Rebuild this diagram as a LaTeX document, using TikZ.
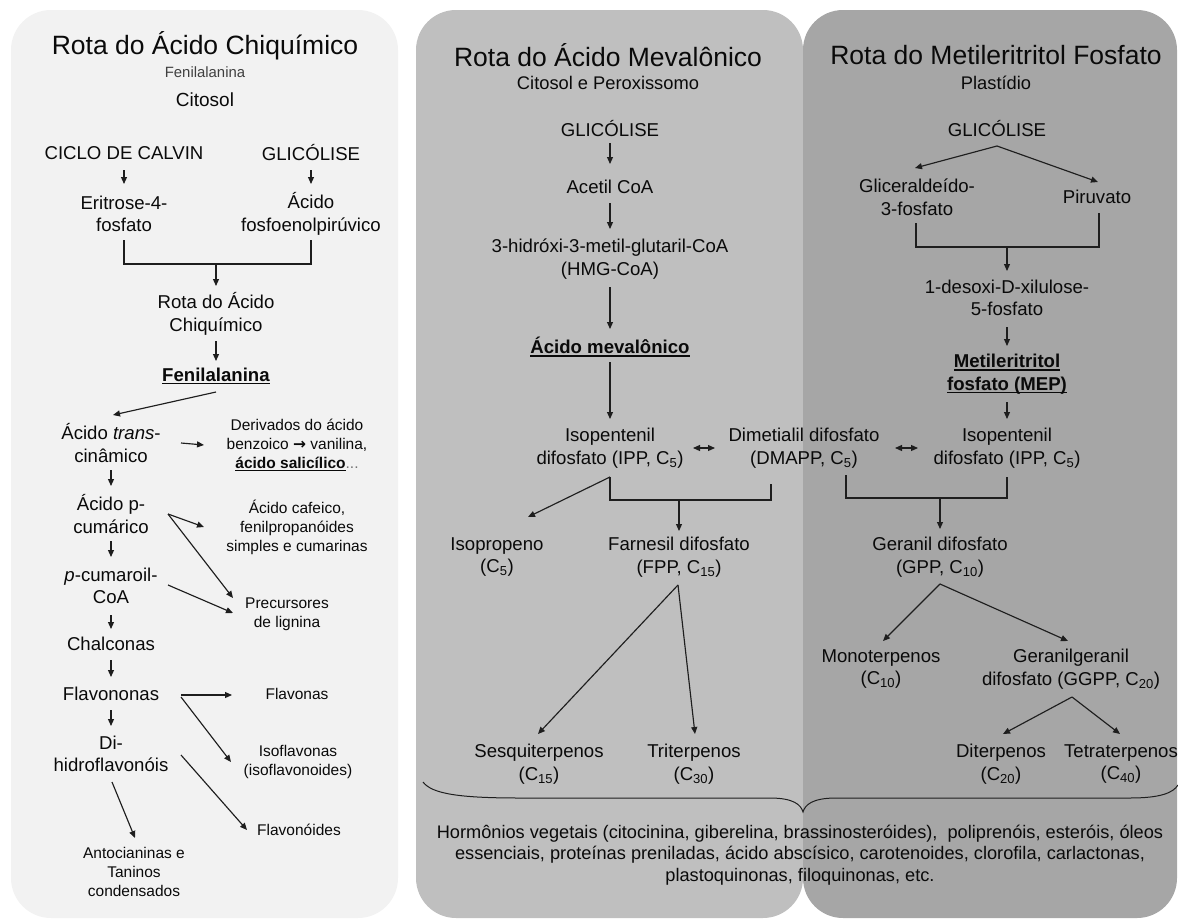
\documentclass[tikz,border=0pt]{standalone}
\usepackage{fontspec}
\setmainfont{Liberation Sans}
\newfontfamily\dejavu{DejaVu Sans}
\usetikzlibrary{arrows.meta,calc}
\definecolor{pA}{HTML}{F2F2F2}
\definecolor{pB}{HTML}{BFBFBF}
\definecolor{pC}{HTML}{A6A6A6}
\definecolor{ink}{HTML}{0A0A0A}
\definecolor{lnk}{HTML}{1E1E1E}
\newcommand{\myul}[1]{\setbox0\hbox{#1}\rlap{\rule[-3pt]{\wd0}{1.3pt}}\box0}
\begin{document}
\begin{tikzpicture}[x=1pt,y=-1pt,
  txt/.style={align=center, inner sep=0pt, text=ink, font=\fontsize{18.6}{22.5}\selectfont},
  sml/.style={txt, font=\fontsize{15.5}{19}\selectfont},
  ttl/.style={txt, font=\fontsize{26.5}{30}\selectfont},
  subt/.style={txt, font=\fontsize{18.3}{21}\selectfont},
  bottxt/.style={txt, font=\fontsize{18.2}{21.5}\selectfont},
  arr/.style={draw=lnk, line width=1.15pt, -{Triangle[length=7pt,width=6pt]}},
  ln/.style={draw=lnk, line width=1.15pt},
  dbl/.style={draw=lnk, line width=1.15pt, {Triangle[length=7pt,width=6pt]}-{Triangle[length=7pt,width=6pt]}}
]
\useasboundingbox (0,0) rectangle (1178,921);
\fill[pA, rounded corners=40pt] (11,10) rectangle (398,918);
\fill[pB, rounded corners=40pt] (416,10) rectangle (803,918);
\fill[pC, rounded corners=40pt] (803,10) rectangle (1177,918);

% ---------- Panel 1 ----------
\node[ttl] (t1) at (205,46) {Rota do Ácido Chiquímico};
\node[txt, font=\fontsize{14.9}{17}\selectfont, text=black!75] (s1) at (205,72) {Fenilalanina};
\node[txt, font=\fontsize{19}{21}\selectfont] (c1) at (205,100) {Citosol};
\node[txt] (calvin) at (124,153) {CICLO DE CALVIN};
\node[txt] (gli1) at (311,153) {GLICÓLISE};
\node[txt] (eri) at (124,214) {Eritrose-4-\\fosfato};
\node[txt] (pep) at (311,214) {Ácido\\fosfoenolpirúvico};
\node[txt] (rac) at (216,314) {Rota do Ácido\\Chiquímico};
\node[txt] (phe) at (216,376) {\myul{\textbf{Fenilalanina}}};
\node[txt] (cin) at (111,443) {Ácido \textit{trans}-\\cinâmico};
\node[sml] (der) at (297,445) {Derivados do ácido\\benzoico {\dejavu\bfseries →} vanilina,\\\myul{\textbf{ácido salicílico}}{\color{black!55}...}};
\node[txt] (pcu) at (111,514) {Ácido p-\\cumárico};
\node[sml] (caf) at (297,527) {Ácido cafeico,\\fenilpropanóides\\simples e cumarinas};
\node[txt] (pco) at (111,586) {\textit{p}-cumaroil-\\CoA};
\node[sml] (pre) at (287,614) {Precursores\\de lignina};
\node[txt] (cha) at (111,644) {Chalconas};
\node[txt] (flv) at (111,694) {Flavononas};
\node[sml] (fla) at (297,694) {Flavonas};
\node[sml] (iso) at (298,762) {Isoflavonas\\(isoflavonoides)};
\node[txt] (dih) at (111,754) {Di-\\hidroflavonóis};
\node[sml] (flo) at (299,830) {Flavonóides};
\node[sml] (ant) at (134,872) {Antocianinas e\\Taninos\\condensados};

\draw[arr] ($(calvin)+(0,17)$) -- ($(eri)+(0,-30)$);
\draw[arr] ($(gli1)+(0,17)$) -- ($(pep)+(0,-30)$);
\draw[ln] ($(eri)+(0,26)$) |- ($(pep)+(0,50)$) -- ($(pep)+(0,26)$);
\draw[arr] ($(rac)+(0,-50)$) -- ($(rac)+(0,-28)$);
\draw[arr] ($(rac)+(0,27)$) -- ($(phe)+(0,-15)$);
\draw[arr] ($(phe)+(0,16)$) -- ($(cin)+(2,-28)$);
\draw[arr] ($(cin)+(70,0)$) -- ($(der)+(-93,0)$);
\draw[arr] ($(cin)+(0,27)$) -- ($(pcu)+(0,-28)$);
\draw[arr] ($(pcu)+(57,0)$) -- ($(caf)+(-93,0)$);
\draw[arr] ($(pcu)+(57,0)$) -- ($(pre)+(-54,-16)$);
\draw[arr] ($(pcu)+(0,27)$) -- ($(pco)+(0,-29)$);
\draw[arr] ($(pco)+(57,-1)$) -- ($(pre)+(-54,-1)$);
\draw[arr] ($(pco)+(0,29)$) -- ($(cha)+(0,-15)$);
\draw[arr] ($(cha)+(0,16)$) -- ($(flv)+(0,-17)$);
\draw[arr] ($(flv)+(70,1)$) -- ($(fla)+(-65,1)$);
\draw[arr] ($(flv)+(70,3)$) -- ($(iso)+(-67,0)$);
\draw[arr] ($(flv)+(0,16)$) -- ($(dih)+(0,-28)$);
\draw[arr] ($(dih)+(70,1)$) -- ($(flo)+(-52,0)$);
\draw[arr] ($(dih)+(1,28)$) -- ($(ant)+(1,-34)$);

% ---------- Panel 2 ----------
\node[ttl] (t2) at (608,55) {Rota do Ácido Mevalônico};
\node[subt] (s2) at (608,83) {Citosol e Peroxissomo};
\node[txt] (gli2) at (610,129) {GLICÓLISE};
\node[txt] (ace) at (610,187) {Acetil CoA};
\node[txt] (hmg) at (610,259) {3-hidróxi-3-metil-glutaril-CoA\\(HMG-CoA)};
\node[txt] (mev) at (610,347) {\myul{\textbf{Ácido mevalônico}}};
\node[txt] (ipp1) at (610,448) {Isopentenil\\difosfato (IPP, C\textsubscript{5})};
\node[txt] (dma) at (804,448) {Dimetialil difosfato\\(DMAPP, C\textsubscript{5})};
\node[txt] (isp) at (497,557) {Isopropeno\\(C\textsubscript{5})};
\node[txt] (fpp) at (679,557) {Farnesil difosfato\\(FPP, C\textsubscript{15})};
\node[txt] (ses) at (539,764) {Sesquiterpenos\\(C\textsubscript{15})};
\node[txt] (tri) at (694,764) {Triterpenos\\(C\textsubscript{30})};

% ---------- Panel 3 ----------
\node[ttl] (t3) at (996,55) {Rota do Metileritritol Fosfato};
\node[subt] (s3) at (996,83) {Plastídio};
\node[txt] (gli3) at (997,129) {GLICÓLISE};
\node[txt] (gla) at (917,197) {Gliceraldeído-\\3-fosfato};
\node[txt] (pir) at (1097,197) {Piruvato};
\node[txt] (dxp) at (1007,298) {1-desoxi-D-xilulose-\\5-fosfato};
\node[txt] (mep) at (1007,374) {\myul{\textbf{Metileritritol}}\\\myul{\textbf{fosfato (MEP)}}};
\node[txt] (ipp2) at (1007,448) {Isopentenil\\difosfato (IPP, C\textsubscript{5})};
\node[txt] (gpp) at (940,557) {Geranil difosfato\\(GPP, C\textsubscript{10})};
\node[txt] (mono) at (881,669) {Monoterpenos\\(C\textsubscript{10})};
\node[txt] (ggpp) at (1071,669) {Geranilgeranil\\difosfato (GGPP, C\textsubscript{20})};
\node[txt] (dit) at (1001,764) {Diterpenos\\(C\textsubscript{20})};
\node[txt] (tet) at (1121,764) {Tetraterpenos\\(C\textsubscript{40})};

% panel 2 connectors
\draw[arr] ($(gli2)+(0,14)$) -- ($(ace)+(0,-23)$);
\draw[arr] ($(ace)+(0,16)$) -- ($(hmg)+(0,-30)$);
\draw[arr] ($(hmg)+(0,28)$) -- ($(mev)+(0,-18)$);
\draw[arr] ($(mev)+(0,15)$) -- ($(ipp1)+(0,-29)$);
\draw[dbl] ($(ipp1)+(83,0)$) -- ($(dma)+(-89,0)$);
\draw[dbl] ($(dma)+(91,0)$) -- ($(ipp2)+(-89,0)$);
\draw[ln] ($(ipp1)+(0,29)$) |- ($(dma)+(-33,52)$) -- ($(dma)+(-33,36)$);
\draw[arr] ($(fpp)+(0,-57)$) -- ($(fpp)+(0,-26)$);
\draw[arr] ($(ipp1)+(0,29)$) -- ($(isp)+(31,-40)$);
\draw[arr] ($(fpp)+(-1,28)$) -- ($(ses)+(-1,-30)$);
\draw[arr] ($(fpp)+(-1,28)$) -- ($(tri)+(1,-30)$);

% panel 3 connectors
\draw[arr] ($(gli3)+(0,17)$) -- ($(gla)+(-2,-29)$);
\draw[arr] ($(gli3)+(0,17)$) -- ($(pir)+(1,-15)$);
\draw[ln] ($(gla)+(-1,26)$) |- ($(pir)+(2,50)$) -- ($(pir)+(2,16)$);
\draw[arr] ($(dxp)+(0,-51)$) -- ($(dxp)+(0,-27)$);
\draw[arr] ($(dxp)+(0,29)$) -- ($(mep)+(0,-28)$);
\draw[arr] ($(mep)+(0,28)$) -- ($(ipp2)+(0,-29)$);
\draw[ln] ($(dma)+(42,27)$) |- ($(ipp2)+(0,50)$) -- ($(ipp2)+(0,29)$);
\draw[arr] ($(gpp)+(0,-59)$) -- ($(gpp)+(0,-28)$);
\draw[arr] ($(gpp)+(0,27)$) -- ($(mono)+(2,-28)$);
\draw[arr] ($(gpp)+(0,27)$) -- ($(ggpp)+(-3,-28)$);
\draw[arr] ($(ggpp)+(1,28)$) -- ($(dit)+(2,-30)$);
\draw[arr] ($(ggpp)+(1,28)$) -- ($(tet)+(-1,-30)$);

% ---------- bottom brace and text ----------
\draw[ln, line width=1pt] (423,782) .. controls (432,794) and (460,798) .. (520,798)
  -- (770,798) .. controls (794,798) and (801,805) .. (803,812)
  .. controls (805,805) and (812,798) .. (836,798)
  -- (1130,798) .. controls (1160,798) and (1173,793) .. (1178,785);
\node[bottxt] (bot) at (800,855) {Hormônios vegetais (citocinina, giberelina, brassinosteróides),\ \ poliprenóis, esteróis, óleos\\essenciais, proteínas preniladas, ácido abscísico, carotenoides, clorofila, carlactonas,\\plastoquinonas, filoquinonas, etc.};
\end{tikzpicture}
\end{document}
